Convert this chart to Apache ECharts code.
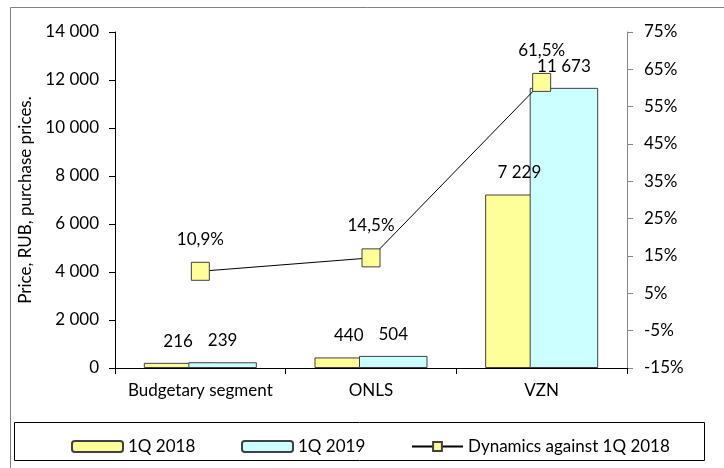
<!DOCTYPE html>
<html>
<head>
<meta charset="utf-8">
<script src="https://cdn.jsdelivr.net/npm/echarts@6/dist/echarts.min.js"></script>
<style>
  html, body { margin: 0; padding: 0; background: #fff; overflow: hidden; }
  #chart { width: 724px; height: 468px; }
</style>
</head>
<body>
<div id="chart"></div>
<script>
const categories = ['Budgetary segment', 'ONLS', 'VZN'];
const price2018 = [216, 440, 7229];
const price2019 = [239, 504, 11673];
const dynamics = [10.9, 14.5, 61.5];
const seriesNames = ['1Q 2018', '1Q 2019', 'Dynamics against 1Q 2018'];

const FONT = 'Lato';
const fmtThousands = v => String(Math.round(v)).replace(/\B(?=(\d{3})+(?!\d))/g, ' ');
const fmtPct = v => v.toFixed(1).replace('.', ',') + '%';

const chart = echarts.init(document.getElementById('chart'));

// one legend per item so spacing matches the reference
const legendLefts = [66, 236, 406];
const legends = seriesNames.map((n, i) => ({
  left: legendLefts[i],
  top: 433,
  itemWidth: 51,
  itemHeight: 11,
  z: 5,
  textStyle: { fontFamily: FONT, fontSize: 17, color: '#000' },
  data: [n]
}));

chart.setOption({
  animation: false,
  textStyle: { fontFamily: FONT, color: '#000' },
  graphic: [
    {
      type: 'rect',
      shape: { x: 10.5, y: 7.5, width: 760, height: 520 },
      style: { fill: 'none', stroke: '#808080', lineWidth: 1 },
      silent: true
    },
    {
      type: 'rect',
      shape: { x: 14.5, y: 422.5, width: 690, height: 38 },
      style: { fill: '#fff', stroke: '#000', lineWidth: 1 },
      silent: true,
      z: 0
    }
  ],
  grid: { left: 115, right: 97, top: 32, bottom: 100 },
  legend: legends,
  xAxis: {
    type: 'category',
    data: categories,
    axisLine: { lineStyle: { color: '#000', width: 1 } },
    axisTick: { show: true, length: 6, lineStyle: { color: '#000' } },
    axisLabel: { interval: 0, fontSize: 17, color: '#000', margin: 14, fontFamily: FONT }
  },
  yAxis: [
    {
      type: 'value',
      min: 0,
      max: 14000,
      interval: 2000,
      name: 'Price, RUB, purchase prices.',
      nameLocation: 'middle',
      nameGap: 78,
      nameTextStyle: { fontSize: 17, color: '#000', fontFamily: FONT },
      splitLine: { show: false },
      axisLine: { show: true, lineStyle: { color: '#000' } },
      axisTick: { show: true, length: 6, lineStyle: { color: '#000' } },
      axisLabel: { fontSize: 17, color: '#000', margin: 16, formatter: fmtThousands, fontFamily: FONT }
    },
    {
      type: 'value',
      min: -15,
      max: 75,
      interval: 10,
      position: 'right',
      splitLine: { show: false },
      axisLine: { show: true, lineStyle: { color: '#868686' } },
      axisTick: { show: true, length: 6, lineStyle: { color: '#868686' } },
      axisLabel: { fontSize: 17, color: '#000', margin: 17, formatter: v => v + '%', fontFamily: FONT }
    }
  ],
  series: [
    {
      name: seriesNames[0],
      type: 'bar',
      data: price2018,
      barWidth: 68.5,
      barGap: '-35%',
      itemStyle: { color: '#FFFF99', borderColor: '#404040', borderWidth: 1 },
      label: {
        show: true, position: 'top', distance: 13, fontSize: 17, color: '#000',
        fontFamily: FONT, formatter: p => fmtThousands(p.value)
      }
    },
    {
      name: seriesNames[1],
      type: 'bar',
      data: price2019,
      barWidth: 68.5,
      barGap: '-35%',
      itemStyle: { color: '#CCFFFF', borderColor: '#404040', borderWidth: 1 },
      label: {
        show: true, position: 'top', distance: 13, fontSize: 17, color: '#000',
        fontFamily: FONT, formatter: p => fmtThousands(p.value)
      }
    },
    {
      name: seriesNames[2],
      type: 'line',
      yAxisIndex: 1,
      data: dynamics,
      symbol: 'rect',
      symbolSize: 18,
      z: 10,
      lineStyle: { color: '#000', width: 1 },
      itemStyle: { color: '#FFFF99', borderColor: '#404040', borderWidth: 1 },
      label: {
        show: true, position: 'top', distance: 14, fontSize: 17, color: '#000',
        fontFamily: FONT, formatter: p => fmtPct(p.value)
      }
    }
  ]
});
</script>
</body>
</html>
